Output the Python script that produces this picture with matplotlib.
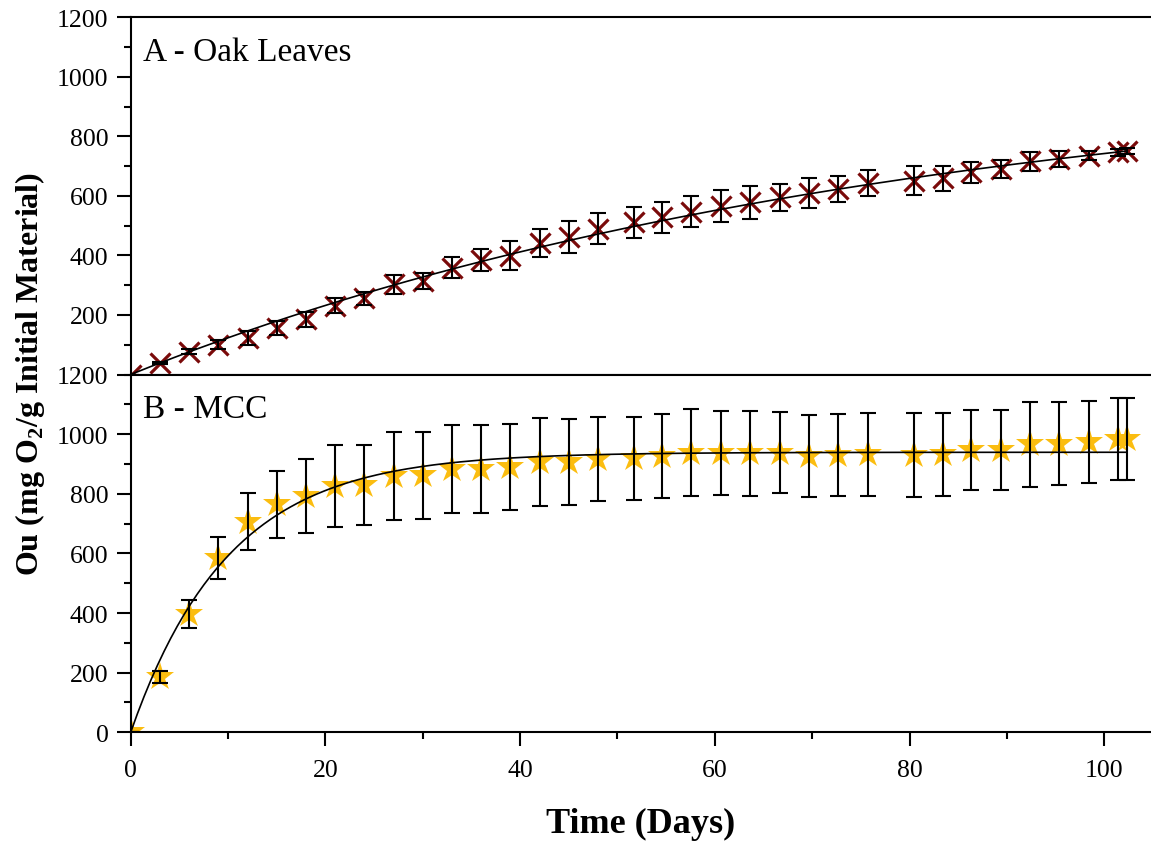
import numpy as np
import matplotlib
matplotlib.use("Agg")
import matplotlib.pyplot as plt
from matplotlib.ticker import MultipleLocator

# Tempo de amostragem (dias), comum aos dois ensaios
dias = [0, 3, 6, 9, 12, 15, 18, 21, 24, 27, 30, 33, 36, 39, 42, 45, 48,
        51.7, 54.6, 57.6, 60.6, 63.6, 66.7, 69.7, 72.6, 75.7, 80.5, 83.4,
        86.3, 89.4, 92.4, 95.3, 98.4, 101.4, 102.3]

# A - folhas de carvalho: consumo de O2 acumulado e desvio
ou_carvalho = [0, 38, 77, 100, 122, 156, 186, 231, 256, 303, 314, 359, 385,
               399, 442, 461, 489, 511, 528, 547, 565, 578, 595, 610, 623,
               642, 651, 659, 679, 690, 716, 724, 735, 746, 752]
dp_carvalho = [0, 4, 8, 16, 23, 24, 25, 25, 22, 31, 26, 35, 38,
               49, 46, 54, 52, 53, 53, 52, 54, 56, 46, 49, 44,
               44, 48, 41, 36, 31, 32, 26, 16, 12, 10]

# B - celulose microcristalina (MCC)
ou_mcc = [0, 186, 396, 584, 706, 765, 793, 826, 829, 860, 862, 882, 884,
          890, 907, 907, 918, 919, 927, 938, 938, 936, 938, 927, 930,
          932, 930, 932, 947, 947, 966, 968, 973, 983, 983]
dp_mcc = [0, 20, 47, 71, 96, 113, 125, 136, 133, 148, 145, 148, 147,
          143, 147, 145, 141, 140, 140, 145, 141, 142, 137, 137, 137,
          138, 141, 140, 134, 133, 142, 139, 138, 137, 137]

y_ticks_a = [200, 400, 600, 800, 1000, 1200]
y_ticks_b = [0, 200, 400, 600, 800, 1000, 1200]
x_ticks = [0, 20, 40, 60, 80, 100]


def ajuste_primeira_ordem(t, y):
    # Ou = Ou_max * (1 - exp(-k t)), k por varredura e Ou_max por minimos quadrados
    t = np.asarray(t, dtype=float)
    y = np.asarray(y, dtype=float)
    melhor = None
    for k in np.linspace(0.001, 0.5, 5000):
        f = 1 - np.exp(-k * t)
        a = f @ y / (f @ f)
        sse = np.sum((y - a * f) ** 2)
        if melhor is None or sse < melhor[0]:
            melhor = (sse, a, k)
    return melhor[1], melhor[2]


plt.rcParams["font.family"] = ["Liberation Serif", "DejaVu Serif"]
plt.rcParams["mathtext.fontset"] = "custom"
plt.rcParams["mathtext.rm"] = "Liberation Serif:bold"

W, H = 1151, 845
fig = plt.figure(figsize=(W / 100, H / 100), dpi=100, facecolor="white")

esq = 130.7 / W
base = 1 - 733.3 / H
meio = 1 - 375.5 / H
topo = 1 - 18.3 / H
ax_a = fig.add_axes([esq, meio, 1 - esq, topo - meio])
ax_b = fig.add_axes([esq, base, 1 - esq, meio - base])

series = [
    (ax_a, ou_carvalho, dp_carvalho, dict(marker="x", color="#7a0a0a", ms=15, mew=2.3, ls="none"),
     y_ticks_a, "A - Oak Leaves"),
    (ax_b, ou_mcc, dp_mcc, dict(marker="*", color="#fbbd10", ms=21, mew=0, ls="none"),
     y_ticks_b, "B - MCC"),
]

t_fit = np.linspace(0, dias[-1], 300)
for ax, ou, dp, estilo, yt, rotulo in series:
    ax.plot(dias, ou, zorder=2, **estilo)
    ax.errorbar(dias, ou, yerr=dp, fmt="none", ecolor="black", elinewidth=1.5,
                capsize=6, capthick=1.5, zorder=3)
    a, k = ajuste_primeira_ordem(dias, ou)
    ax.plot(t_fit, a * (1 - np.exp(-k * t_fit)), color="black", lw=1.2, zorder=4)

    ax.set_xlim(0, 104.8)
    ax.set_ylim(0, 1200)
    ax.set_yticks(yt)
    ax.yaxis.set_minor_locator(MultipleLocator(100))
    ax.xaxis.set_minor_locator(MultipleLocator(10))
    ax.set_xticks(x_ticks)
    ax.tick_params(axis="both", which="major", direction="out", length=10, width=1.5,
                   labelsize=18.5, pad=6, colors="black")
    ax.tick_params(axis="both", which="minor", direction="out", length=5, width=1.5)
    ax.spines["right"].set_visible(False)
    for s in ("left", "top", "bottom"):
        ax.spines[s].set_linewidth(1.5)
    ax.text(0.012, 1 - 42.5 / 357.5, rotulo, transform=ax.transAxes, fontsize=24,
            ha="left", va="baseline")

# painel superior sem marcas no eixo x
ax_a.tick_params(axis="x", which="both", bottom=False, labelbottom=False)
ax_b.tick_params(axis="x", which="major", pad=9)

ax_b.set_xlabel("Time (Days)", fontsize=26, fontweight="bold", labelpad=19)
fig.text(30 / W, 1 - 374 / H, r"Ou (mg O$_{\mathrm{2}}$/g Initial Material)",
         rotation=90, fontsize=23, fontweight="bold", ha="center", va="center")

fig.savefig("out.png", dpi=100, facecolor="white")
plt.close(fig)
